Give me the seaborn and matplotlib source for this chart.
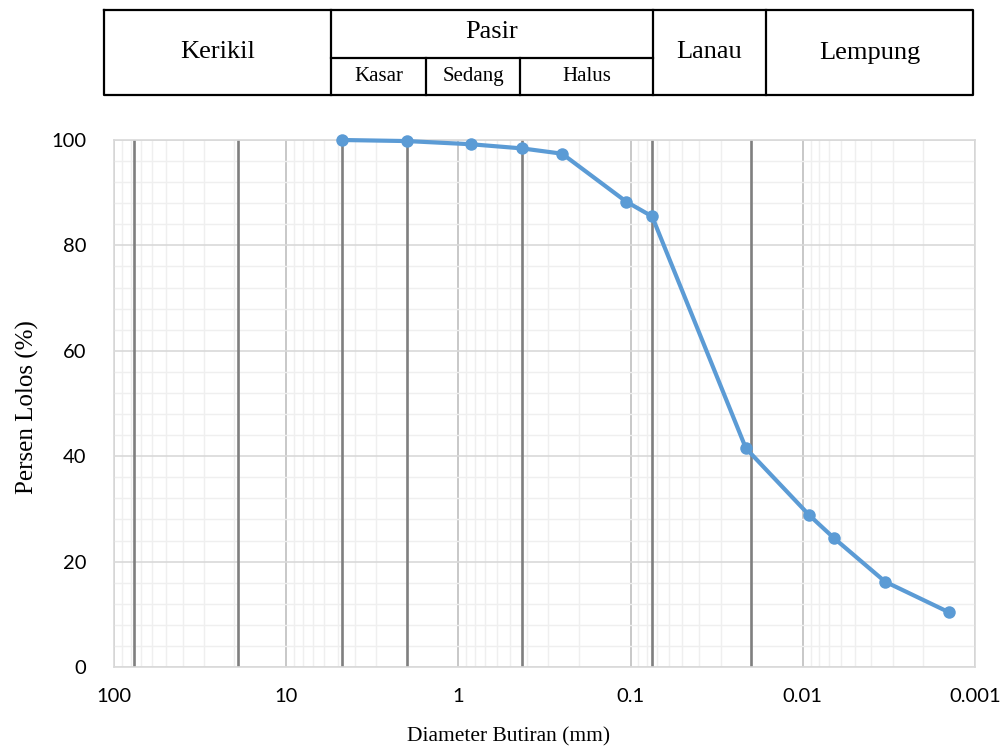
#!/usr/bin/env python3
"""
Grain size distribution curve (sieve + hydrometer) with soil class header.
"""

import numpy as np
import pandas as pd
import matplotlib
matplotlib.use("Agg")
import matplotlib.pyplot as plt
from matplotlib.ticker import LogLocator, MultipleLocator, FixedLocator
import seaborn as sns

# grain diameter (mm) and percent passing
diameter_mm = [4.75, 2.0, 0.85, 0.425, 0.25, 0.106, 0.075, 0.0214, 0.00917, 0.00656, 0.00333, 0.00142]
percent_passing = [100.0, 99.8, 99.2, 98.4, 97.4, 88.3, 85.5, 41.5, 28.8, 24.4, 16.2, 10.4]

# sieve / class boundary lines (mm)
boundary_mm = [76.2, 19.05, 4.75, 2.0, 0.425, 0.075, 0.02]

x_ticks = [100, 10, 1, 0.1, 0.01, 0.001]
x_tick_labels = ["100", "10", "1", "0.1", "0.01", "0.001"]

# header table labels
main_classes = ["Kerikil", "Pasir", "Lanau", "Lempung"]
sand_classes = ["Kasar", "Sedang", "Halus"]

W, H = 1006, 751
SERIF = "Liberation Serif"
SANS = "Lato"
LINE_BLUE = "#5B9BD5"


def fx(px):
    return px / W


def fy(py):
    return 1 - py / H


def draw_header(fig):
    """Soil classification table above the chart (pixel layout)."""
    left, right, top, bottom = 104, 973, 10, 95
    cols = [left, 331, 653, 766, right]
    sub_cols = [331, 426, 520, 653]
    sub_row = 57.5
    tab = fig.add_axes([fx(left), fy(bottom), fx(right - left), (bottom - top) / H])
    tab.set_xlim(left, right)
    tab.set_ylim(bottom, top)
    tab.axis("off")
    kw = dict(color="black", lw=1.6, solid_capstyle="projecting", clip_on=False)
    tab.plot([left, right, right, left, left], [top, top, bottom, bottom, top], **kw)
    for c in cols[1:-1]:
        tab.plot([c, c], [top, bottom], **kw)
    tab.plot([sub_cols[0], sub_cols[-1]], [sub_row, sub_row], **kw)
    for c in sub_cols[1:-1]:
        tab.plot([c, c], [sub_row, bottom], **kw)

    for i, name in enumerate(main_classes):
        cx = (cols[i] + cols[i + 1]) / 2
        cy = (top + sub_row) / 2 - 2 if name == "Pasir" else (top + bottom) / 2
        tab.text(cx, cy, name, ha="center", va="center", family=SERIF,
                 fontsize=19, color="black")
    for i, name in enumerate(sand_classes):
        cx = (sub_cols[i] + sub_cols[i + 1]) / 2
        tab.text(cx, (sub_row + bottom) / 2, name, ha="center", va="center",
                 family=SERIF, fontsize=15, color="black")


def main():
    sns.set_style("white")
    plt.rcParams["font.family"] = [SANS, "DejaVu Sans"]
    plt.rcParams["text.color"] = "black"

    df = pd.DataFrame({"diameter": diameter_mm, "passing": percent_passing})

    fig = plt.figure(figsize=(W / 100, H / 100), dpi=100)
    ax_l, ax_r, ax_t, ax_b = 114, 975, 140, 667
    ax = fig.add_axes([fx(ax_l), fy(ax_b), fx(ax_r - ax_l), (ax_b - ax_t) / H])

    ax.set_xscale("log")
    ax.set_xlim(100, 0.001)
    ax.set_ylim(0, 100)

    ax.xaxis.set_major_locator(FixedLocator(x_ticks))
    ax.set_xticklabels(x_tick_labels)
    ax.xaxis.set_minor_locator(LogLocator(base=10, subs=np.arange(2, 10), numticks=20))
    ax.yaxis.set_major_locator(MultipleLocator(20))
    ax.yaxis.set_minor_locator(MultipleLocator(4))

    ax.grid(which="minor", axis="both", color="#efefef", lw=1.0)
    ax.grid(which="major", axis="y", color="#d9d9d9", lw=1.2)
    ax.grid(which="major", axis="x", color="#bfbfbf", lw=1.2)
    ax.set_axisbelow(True)
    for s in ax.spines.values():
        s.set_color("#d9d9d9")
        s.set_linewidth(1.2)

    for d in boundary_mm:
        ax.axvline(d, color="#7f7f7f", lw=1.9, zorder=2)

    sns.lineplot(data=df, x="diameter", y="passing", ax=ax, sort=False,
                 color=LINE_BLUE, lw=3.0, marker="o", markersize=9,
                 markeredgewidth=0, zorder=4, clip_on=False)

    ax.tick_params(which="both", length=0, labelsize=14.5, colors="black")
    ax.tick_params(axis="x", pad=15)
    ax.tick_params(axis="y", pad=20)
    ax.set_xlabel("")
    ax.set_ylabel("")

    fig.text(fx(509), fy(737), "Diameter Butiran (mm)", ha="center", va="center",
             family=SERIF, fontsize=15.5, color="black")
    fig.text(fx(27), fy(407), "Persen Lolos (%)", ha="center", va="center",
             rotation=90, family=SERIF, fontsize=18, color="black")

    draw_header(fig)

    fig.savefig("out.png", dpi=100)


if __name__ == "__main__":
    main()
